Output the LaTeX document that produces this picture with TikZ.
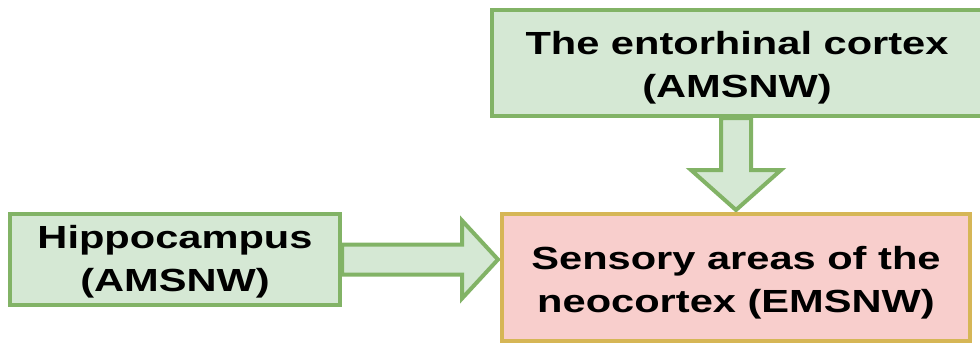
\documentclass[tikz,border=0pt]{standalone}
\usepackage{fontspec}
\setmainfont{Liberation Sans}[FakeStretch=1.3]
\usetikzlibrary{calc,backgrounds}
\definecolor{gfill}{HTML}{D5E8D4}
\definecolor{gline}{HTML}{82B366}
\definecolor{pfill}{HTML}{F8CECC}
\definecolor{yline}{HTML}{D6B656}
\begin{document}
\begin{tikzpicture}[x=1pt,y=-1pt,
  box/.style={rectangle, line width=4pt, inner sep=0pt, align=center,
    font=\fontsize{32}{43}\selectfont\bfseries},
  gbox/.style={box, fill=gfill, draw=gline},
  pbox/.style={box, fill=pfill, draw=yline},
  bigarrow/.style={fill=gfill, draw=gline, line width=4pt}]
\useasboundingbox (0,0) rectangle (980,345);
\node[gbox, minimum width=496pt, minimum height=106pt] (ent) at (740,63) {\rule{0pt}{33.5pt}\hspace*{-6pt}The entorhinal cortex\\\hspace*{-6pt}(AMSNW)};
\node[gbox, minimum width=330pt, minimum height=91pt] (hip) at (175,259.5) {\rule{0pt}{27.5pt}Hippocampus\\(AMSNW)};
\node[pbox, minimum width=468pt, minimum height=127pt] (sens) at (736,277.5) {\rule{0pt}{33.5pt}Sensory areas of the\\neocortex (EMSNW)};
\begin{scope}[on background layer]
\draw[bigarrow] let \p1=(hip.east), \p2=(sens.west) in
  (\x1,\y1+15pt) -- (\x2-38pt,\y1+15pt) -- (\x2-38pt,\y1+39pt) -- (\x2-2pt,\y1)
  -- (\x2-38pt,\y1-39pt) -- (\x2-38pt,\y1-15pt) -- (\x1,\y1-15pt) -- cycle;
\draw[bigarrow] let \p1=(ent.south), \p2=(sens.north) in
  (\x2-15pt,\y1) -- (\x2-15pt,\y2+42pt) -- (\x2-45pt,\y2+42pt) -- (\x2,\y2+2pt)
  -- (\x2+45pt,\y2+42pt) -- (\x2+15pt,\y2+42pt) -- (\x2+15pt,\y1) -- cycle;
\end{scope}
\end{tikzpicture}
\end{document}
